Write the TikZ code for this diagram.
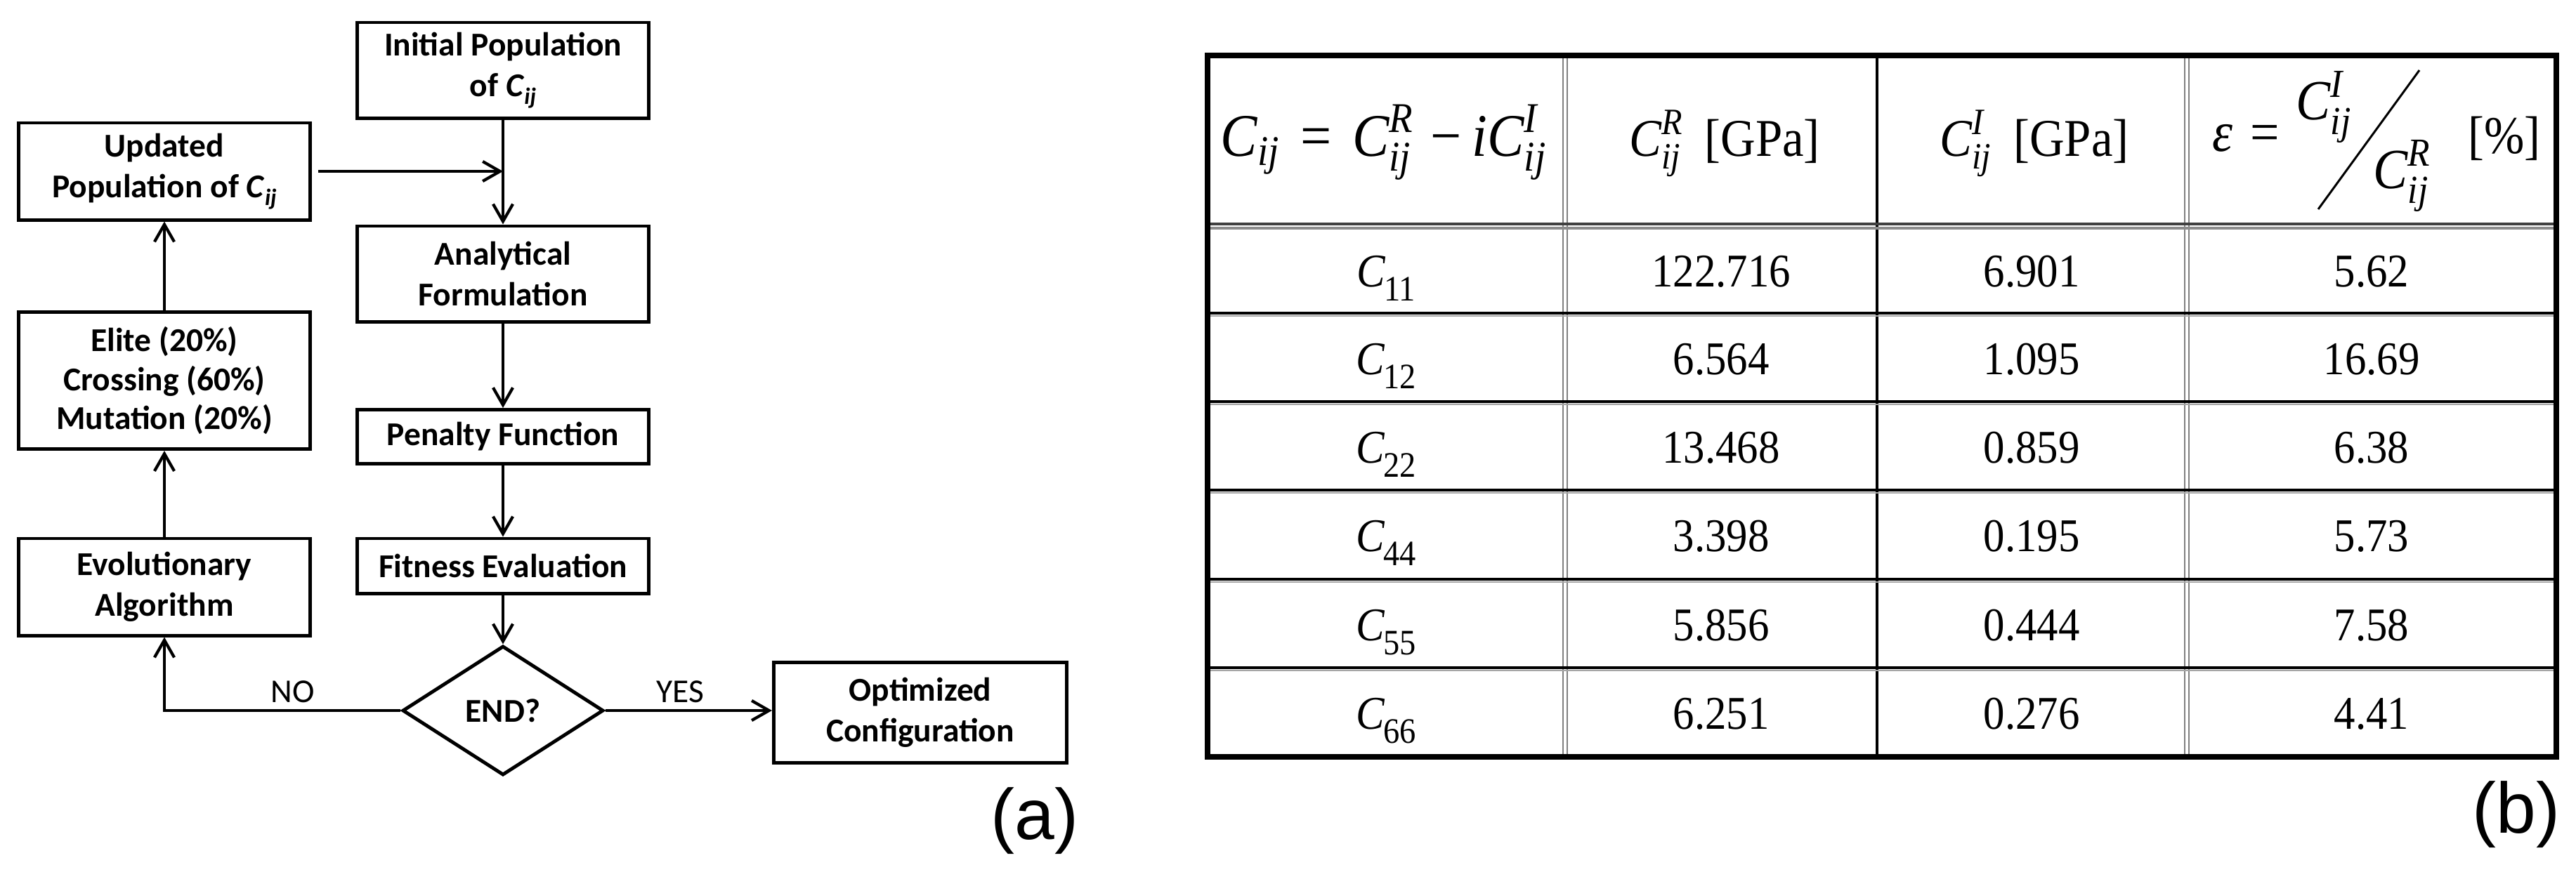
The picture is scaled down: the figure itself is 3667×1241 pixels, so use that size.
\documentclass[tikz,border=0pt]{standalone}
\usepackage{amsmath}
\usepackage{fontspec}
\setmainfont{Liberation Serif}
\newfontfamily\flowfont{Carlito}
\newfontfamily\tabfont{Liberation Serif}[FakeStretch=0.91]
\newfontfamily\labfont{Liberation Sans}
\usetikzlibrary{arrows.meta,shapes.geometric}
\newcommand\fC{\textit{C}\raisebox{-0.22em}{\fontsize{9.5}{9.5}\selectfont\itshape ij}}
\newcommand\tC[1]{\textit{C}\kern-0.03em\raisebox{-0.3em}{\fontsize{14.5}{14.5}\selectfont #1}}
\newcommand\hC[1]{$\textit{C}_{\textit{ij}}^{\textit{#1}}$}
\colorlet{tgray}{black!50}
\begin{document}
\begin{tikzpicture}[x=0.01cm,y=-0.01cm,
  fbox/.style={draw,line width=1.4pt,fill=white,align=center,inner sep=0pt,
    font=\flowfont\bfseries\fontsize{13.5}{16.5}\selectfont},
  conn/.style={line width=1.2pt,-{Straight Barb[length=7pt,width=8pt]}},
  lbl/.style={inner sep=0pt,font=\flowfont\fontsize{13.5}{16.5}\selectfont},
  tabtxt/.style={inner sep=0pt,font=\tabfont\fontsize{19}{22}\selectfont},
  tabhead/.style={inner sep=0pt,font=\tabfont\fontsize{21.5}{24}\selectfont},
  tabbig/.style={inner sep=0pt,font=\tabfont\fontsize{24.5}{28}\selectfont},
  tabfrac/.style={inner sep=0pt,font=\tabfont\fontsize{23}{26}\selectfont},
  labf/.style={inner sep=0pt,font=\labfont\fontsize{29}{32}\selectfont},
  outer/.style={line width=2.3pt,black},
  rowsep/.style={line width=1.4pt,black},
  dbl/.style={line width=0.55pt,tgray},
  single/.style={line width=1.1pt,black}
  ]
\path[fill=white,use as bounding box] (0,0) rectangle (3667,1241);

% ---------- flowchart (a) ----------
\node[fbox,minimum width=4.14cm,minimum height=1.36cm] (init) at (716,100) {Initial Population\\of \fC};
\node[fbox,minimum width=4.15cm,minimum height=1.38cm] (upd) at (234,244) {Updated\\Population of \fC};
\node[fbox,minimum width=4.14cm,minimum height=1.36cm] (anal) at (716,390) {Analytical\\Formulation};
\node[fbox,minimum width=4.15cm,minimum height=1.95cm,font=\flowfont\bfseries\fontsize{13.5}{15.8}\selectfont] (elite) at (234,542) {Elite (20\%)\\Crossing (60\%)\\Mutation (20\%)};
\node[fbox,minimum width=4.14cm,minimum height=0.77cm] (pen) at (716,622) {Penalty Function};
\node[fbox,minimum width=4.14cm,minimum height=0.78cm] (fit) at (716,806) {Fitness Evaluation};
\node[fbox,minimum width=4.15cm,minimum height=1.38cm] (evo) at (234,836) {Evolutionary\\Algorithm};
\node[fbox,diamond,minimum width=2.86cm,minimum height=1.84cm] (endq) at (716,1012) {END?};
\node[fbox,minimum width=4.17cm,minimum height=1.43cm] (opt) at (1310,1015) {Optimized\\Configuration};

\draw[conn] (init) -- (anal);
\draw[conn,shorten <=2.5pt] (upd.east) -- (upd.east -| init.south);
\draw[conn] (anal) -- (pen);
\draw[conn] (pen) -- (fit);
\draw[conn] (fit) -- (endq);
\draw[conn] (endq.west) -- (endq.west -| evo.south) -- (evo.south);
\draw[conn] (endq.east) -- (endq.east -| opt.west);
\draw[conn] (evo) -- (elite);
\draw[conn] (elite) -- (upd);

\node[lbl,anchor=base] (no) at (417,1000) {NO};
\node[lbl,anchor=base] (yes) at (968,1000) {YES};
\node[labf] (la) at (1473,1169) {(a)};

% ---------- table (b) ----------
% column separators
\draw[dbl] (2225,79) -- (2225,1078);
\draw[dbl] (2231,79) -- (2231,1078);
\draw[single] (2672,79) -- (2672,1078);
\draw[dbl] (3110,79) -- (3110,1078);
\draw[dbl] (3116,79) -- (3116,1078);
% header separator (double)
\draw[line width=1.1pt,black!75] (1719,319) -- (3639,319);
\draw[line width=1.1pt,black!45] (1719,325) -- (3639,325);
% row separators
\foreach \yy in {446,572,698,825,951}{
  \draw[rowsep] (1719,\yy) -- (3639,\yy);
  \draw[line width=0.5pt,black!35] (1719,\yy+4) -- (3639,\yy+4);
}
% outer border
\draw[outer] (1719,79) rectangle (3639,1078);

% header
\node[tabbig,anchor=base] (h1) at (1970,222) {$\textit{C}_{\textit{ij}}\mkern6mu\text{=}\mkern6mu\textit{C}_{\textit{ij}}^{\textit{R}}\mkern5mu\text{−}\mkern3mu\textit{i}\textit{C}_{\textit{ij}}^{\textit{I}}$};
\node[tabhead,anchor=base] (h2) at (2455,222) {\hC{R}\hspace{0.4em}[GPa]};
\node[tabhead,anchor=base] (h3) at (2896,222) {\hC{I}\hspace{0.4em}[GPa]};
\node[tabfrac,anchor=base west] (h4a) at (3149,215) {\textit{ε}\hspace{0.3em}=};
\node[tabfrac,anchor=base west] (h4n) at (3268,170) {\hC{I}};
\node[tabfrac,anchor=base west] (h4d) at (3378,268) {\hC{R}};
\draw[line width=0.85pt] (3300,298) -- (3444,100);
\node[tabhead,anchor=base west] (h4p) at (3513,218) {[\%]};

% body rows
\foreach \n/\yy/\a/\b/\c in {11/408/122.716/6.901/5.62,
                              12/533/6.564/1.095/16.69,
                              22/659/13.468/0.859/6.38,
                              44/785/3.398/0.195/5.73,
                              55/912/5.856/0.444/7.58,
                              66/1038/6.251/0.276/4.41}{
  \node[tabtxt,anchor=base] (c1r\n) at (1973,\yy) {\tC{\n}};
  \node[tabtxt,anchor=base] (c2r\n) at (2450,\yy) {\a};
  \node[tabtxt,anchor=base] (c3r\n) at (2892,\yy) {\b};
  \node[tabtxt,anchor=base] (c4r\n) at (3376,\yy) {\c};
}

\node[labf] (lb) at (3582,1160) {(b)};
\end{tikzpicture}
\end{document}
